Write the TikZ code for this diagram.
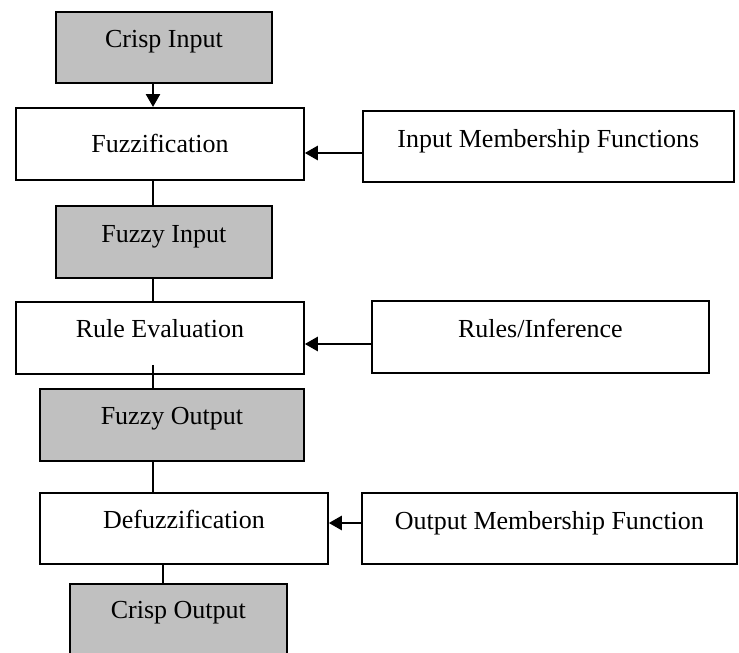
\documentclass[tikz,border=0pt]{standalone}
\usepackage{fontspec}
\setmainfont{Liberation Serif}
\usetikzlibrary{arrows.meta}
\definecolor{boxgray}{HTML}{C0C0C0}
\tikzset{
  box/.style={draw, line width=1.8pt, rectangle, anchor=north west, inner sep=0pt},
  gbox/.style={box, fill=boxgray},
  txt/.style={font=\fontsize{26}{30}\selectfont, inner sep=0pt, anchor=base},
  conn/.style={line width=2.6pt},
  arr/.style={conn, -{Triangle[length=13pt,width=14pt]}}
}
\begin{document}
\begin{tikzpicture}[x=1pt,y=-1pt]
\useasboundingbox (0,0) rectangle (739,653);
\clip (0,0) rectangle (739,653);
% boxes
\node[gbox, minimum width=216pt, minimum height=71pt] (ci) at (55,11) {};
\node[box, minimum width=288pt, minimum height=72pt] (fz) at (15,107) {};
\node[box, minimum width=371pt, minimum height=71pt] (imf) at (362,110) {};
\node[gbox, minimum width=216pt, minimum height=72pt] (fi) at (55,205) {};
\node[box, minimum width=288pt, minimum height=72pt] (re) at (15,301) {};
\node[box, minimum width=337pt, minimum height=72pt] (ri) at (371,300) {};
\node[gbox, minimum width=264pt, minimum height=72pt] (fo) at (39,388) {};
\node[box, minimum width=288pt, minimum height=71pt] (df) at (39,492) {};
\node[box, minimum width=375pt, minimum height=71pt] (omf) at (361,492) {};
\node[gbox, minimum width=217pt, minimum height=90pt] (co) at (69,583) {};
% texts (placed by baseline)
\node[txt] (tci) at ([yshift=-36pt]ci.north) {Crisp Input};
\node[txt] (tfz) at ([yshift=-45pt]fz.north) {Fuzzification};
\node[txt] (timf) at ([yshift=-37pt]imf.north) {Input Membership Functions};
\node[txt] (tfi) at ([yshift=-37pt]fi.north) {Fuzzy Input};
\node[txt] (tre) at ([yshift=-36pt]re.north) {Rule Evaluation};
\node[txt] (tri) at ([yshift=-37pt]ri.north) {Rules/Inference};
\node[txt] (tfo) at ([yshift=-36pt]fo.north) {Fuzzy Output};
\node[txt] (tdf) at ([yshift=-36pt]df.north) {Defuzzification};
\node[txt] (tomf) at ([yshift=-37pt]omf.north) {Output Membership Function};
\node[txt] (tco) at ([yshift=-35pt]co.north) {Crisp Output};
% guide coordinates
\coordinate (cx) at (153,0);
\coordinate (cx2) at (163,0);
\coordinate (y1) at (0,153);
\coordinate (y2) at (0,344);
\coordinate (y3) at (0,523);
% vertical connectors
\draw[arr] (ci.south -| cx) -- (fz.north -| cx);
\draw[conn] (fz.south -| cx) -- (fi.north -| cx);
\draw[conn] (fi.south -| cx) -- (re.north -| cx);
\draw[conn] ([yshift=10pt]re.south -| cx) -- (fo.north -| cx);
\draw[conn] (fo.south -| cx) -- (df.north -| cx);
\draw[conn] (df.south -| cx2) -- (co.north -| cx2);
% horizontal arrows
\draw[arr] (imf.west |- y1) -- (fz.east |- y1);
\draw[arr] (ri.west |- y2) -- (re.east |- y2);
\draw[arr] (omf.west |- y3) -- (df.east |- y3);
\end{tikzpicture}
\end{document}
